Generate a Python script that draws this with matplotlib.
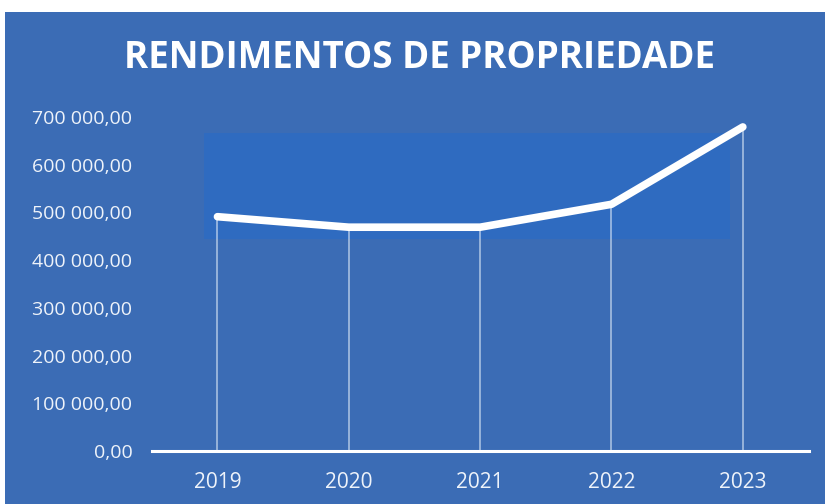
import matplotlib.pyplot as plt
from matplotlib.patches import Rectangle
from matplotlib.ticker import FuncFormatter

years = ["2019", "2020", "2021", "2022", "2023"]
rendimentos = [491000, 469000, 469000, 517000, 679000]
y_ticks = [0, 100000, 200000, 300000, 400000, 500000, 600000, 700000]

BLUE = "#3b6cb5"
INNER = "#2d6bc3"


def fmt_pt(v, pos=None):
    s = f"{v:,.2f}"
    return s.replace(",", " ").replace(".", ",")


def main():
    plt.rcParams["font.family"] = ["Open Sans", "DejaVu Sans"]
    fig = plt.figure(figsize=(8.25, 5.04), dpi=100, facecolor="white")
    fig.patches.append(Rectangle((0.006, 0), 1.0, 0.976, transform=fig.transFigure,
                                 facecolor=BLUE, edgecolor="none", zorder=-5))

    ax = fig.add_axes([0.184, 0.105, 0.796, 0.663])
    ax.set_zorder(2)
    ax.set_facecolor("none")
    x = list(range(len(years)))

    # darker band behind the upper part of the line
    ax.add_patch(Rectangle((-0.1, 445000), 4.0, 222000, facecolor=INNER,
                           edgecolor="none", alpha=0.85, zorder=0))

    ax.vlines(x, 0, rendimentos, colors="#d6e4f5", linewidth=1.1, alpha=0.75, zorder=1)
    ax.plot(x, rendimentos, color="white", linewidth=5.5, solid_capstyle="round",
            solid_joinstyle="round", zorder=3)

    ax.set_xlim(-0.5, 4.5)
    ax.set_ylim(0, 700000)
    ax.set_xticks(x)
    ax.set_xticklabels(years)
    ax.set_yticks(y_ticks)
    ax.yaxis.set_major_formatter(FuncFormatter(fmt_pt))
    ax.tick_params(axis="both", length=0, colors="#eef3fa", labelsize=14)
    ax.tick_params(axis="x", pad=15, labelsize=15)
    ax.tick_params(axis="y", pad=14)

    for side in ["top", "right", "left"]:
        ax.spines[side].set_visible(False)
    ax.spines["bottom"].set_color("white")
    ax.spines["bottom"].set_linewidth(2.2)

    fig.text(0.509, 0.884, "RENDIMENTOS DE PROPRIEDADE", ha="center", va="center",
             color="white", fontsize=26.5, fontweight="bold")

    fig.savefig("out.png", dpi=100, facecolor=fig.get_facecolor())


if __name__ == "__main__":
    main()
